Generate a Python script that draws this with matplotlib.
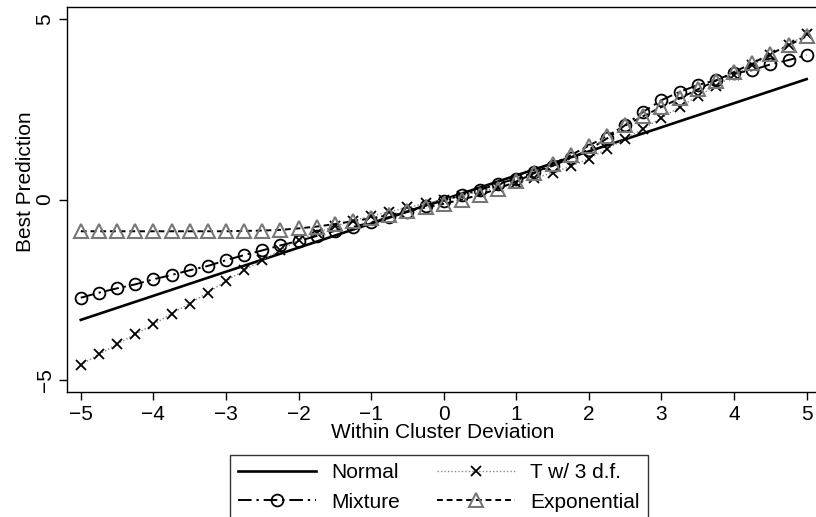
import numpy as np
import matplotlib.pyplot as plt

plt.rcParams['font.family'] = ['Liberation Sans', 'DejaVu Sans']
plt.rcParams['font.size'] = 15

# within-cluster deviation grid
dev = np.arange(-5, 5.001, 0.25)

# best predictions under each random-effect distribution
normal = dev * 2 / 3
mixture = [-2.72, -2.58, -2.46, -2.35, -2.21, -2.09, -1.96, -1.84, -1.68,
           -1.54, -1.41, -1.27, -1.15, -1.01, -0.87, -0.76, -0.63, -0.49,
           -0.34, -0.18, -0.03, 0.12, 0.27, 0.43, 0.58, 0.75, 0.93, 1.14,
           1.38, 1.69, 2.06, 2.43, 2.75, 2.98, 3.17, 3.30, 3.49, 3.58,
           3.74, 3.86, 4.00]
t3 = [-4.57, -4.29, -4.01, -3.73, -3.46, -3.16, -2.88, -2.58, -2.26,
      -1.96, -1.68, -1.40, -1.13, -0.92, -0.74, -0.59, -0.46, -0.34,
      -0.22, -0.11, 0.00, 0.11, 0.22, 0.34, 0.46, 0.59, 0.74, 0.92,
      1.13, 1.40, 1.68, 1.96, 2.26, 2.56, 2.86, 3.15, 3.44, 3.72,
      4.00, 4.29, 4.57]
expo = [-0.88, -0.88, -0.88, -0.88, -0.88, -0.88, -0.88, -0.88, -0.88,
        -0.87, -0.86, -0.84, -0.80, -0.75, -0.68, -0.60, -0.52, -0.43,
        -0.33, -0.22, -0.12, 0.00, 0.13, 0.30, 0.50, 0.73, 0.98, 1.23,
        1.49, 1.76, 2.05, 2.31, 2.56, 2.80, 3.05, 3.29, 3.53, 3.77,
        4.03, 4.27, 4.52]

fig = plt.figure(figsize=(8.16, 5.17), dpi=100)
ax = fig.add_axes([67 / 816, 1 - 392 / 517, 752 / 816, 385 / 517])

ax.plot(dev, normal, color='black', lw=1.9, label='Normal')
ax.plot(dev, mixture, color='black', lw=1.4, dashes=(7, 2.5, 1.2, 2.5),
        marker='o', ms=8.5, mfc='none', mec='black', mew=1.3, label='Mixture')
ax.plot(dev, t3, color='#888888', lw=1.0, ls=(0, (1, 1.5)),
        marker='x', ms=7, mec='black', mew=1.3, label='T w/ 3 d.f.')
ax.plot(dev, expo, color='black', lw=1.4, dashes=(3, 2),
        marker='^', ms=9.5, mfc='none', mec='#777777', mew=1.5, label='Exponential')

ax.set_xlim(-5.19, 5.17)
ax.set_ylim(-5.33, 5.33)
ax.set_xticks(range(-5, 6))
ax.set_yticks([-5, 0, 5])
ax.set_yticklabels(['\u22125', '0', '5'], rotation=90, va='center')
ax.tick_params(direction='out', length=6, width=1, pad=3)
ax.set_xlabel('Within Cluster Deviation', labelpad=0)
ax.set_ylabel('Best Prediction')
ax.yaxis.set_label_coords(-0.042, 0.545)
for s in ax.spines.values():
    s.set_linewidth(1.0)

# legend box runs off the bottom edge
fig.legend(loc='upper left', bbox_to_anchor=(230 / 816, 1 - 455 / 517),
           borderaxespad=0, ncol=2, frameon=True, fancybox=False,
           edgecolor='black', handlelength=3.75, handletextpad=0.7,
           columnspacing=1.8, labelspacing=0.5, borderpad=0.4, numpoints=1)

fig.savefig('out.png', dpi=100)
